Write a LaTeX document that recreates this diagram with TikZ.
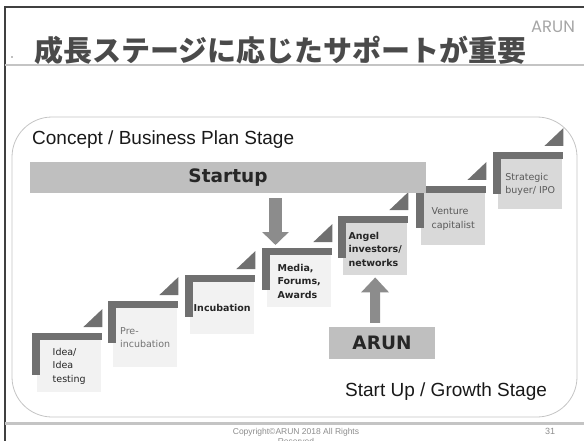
\documentclass[tikz,border=0pt]{standalone}
\usepackage{fontspec}
\setmainfont{Liberation Sans}
\newfontfamily\stepfont{DejaVu Sans}
\newfontfamily\jpfont{Noto Sans CJK JP}
\newfontfamily\logofont{Poppins}
\usetikzlibrary{arrows.meta,calc}
\definecolor{ArunInk}{HTML}{262626}
\definecolor{ArunTitle}{HTML}{4A4A4A}
\definecolor{ArunBar}{HTML}{707070}
\definecolor{ArunArrow}{HTML}{8C8C8C}
\definecolor{ArunBand}{HTML}{BFBFBF}
\definecolor{ArunPale}{HTML}{F2F2F2}
\definecolor{ArunShade}{HTML}{D9D9D9}
\definecolor{ArunRule}{HTML}{C4C4C4}
\definecolor{ArunSoft}{HTML}{A6A6A6}
\begin{document}
\begin{tikzpicture}[x=1pt,y=-1pt,
    stepbox/.style={anchor=north west,minimum width=64pt,minimum height=52pt,inner sep=2pt,align=left,font=\stepfont\fontsize{9.5}{13.5}\selectfont,text=ArunInk},
    palebox/.style={stepbox,fill=ArunPale},
    darkbox/.style={stepbox,fill=ArunShade},
    bandbox/.style={fill=ArunBand,inner sep=0pt,font=\stepfont\bfseries\fontsize{18.5}{22}\selectfont,text=ArunInk},
    stepbar/.style={fill=ArunBar},
    blockarr/.style={ArunArrow,-{Triangle[width=26pt,length=13pt]}},
    stage/.style={anchor=base west,inner sep=0pt,font=\fontsize{19}{23}\selectfont,text=black!90},
    foot/.style={inner sep=0pt,font=\fontsize{8.5}{10}\selectfont,text=black!45}
  ]
  \useasboundingbox (0,0) rectangle (584,441);
  \clip (0,0) rectangle (584,441);
  % slide frame and rules
  \draw[black!75,line width=1.5pt] (5,441) -- (5,7) -- (584,7);
  \draw[ArunRule,line width=2pt] (5,65) -- (584,65);
  \draw[ArunRule,line width=3pt] (5,423) -- (584,423);
  \fill[black!50] (12,57) circle (0.8pt);
  \node[inner sep=0pt,font=\jpfont\bfseries\fontsize{29}{32}\selectfont,text=ArunTitle] (title) at (280.5,50.5) {成長ステージに応じたサポートが重要};
  \node[inner sep=0pt,font=\logofont\fontsize{16.5}{18}\selectfont,text=ArunSoft] (logo) at (553,27) {ARUN};
  \draw[ArunRule,line width=0.8pt,rounded corners=40pt] (12,117) rectangle (577,417);
  \node[stage] (concept) at (32,145) {Concept / Business Plan Stage};
  \node[stage] (growth) at (345,396) {Start Up / Growth Stage};
  % steps
  \node[palebox] (idea) at (37,340) {Idea/\\Idea\\testing};
  \node[palebox,minimum height=59pt,text=black!55] (preinc) at (113,308) {Pre-\\incubation};
  \node[palebox,font=\stepfont\bfseries\fontsize{9.5}{13.5}\selectfont] (incub) at (190,282) {Incubation};
  \node[palebox,font=\stepfont\bfseries\fontsize{9.5}{13.5}\selectfont] (media) at (267,255) {Media,\\Forums,\\Awards};
  \node[darkbox,font=\stepfont\bfseries\fontsize{9.5}{13.5}\selectfont] (angel) at (343,223) {Angel\\investors/\\networks};
  \node[darkbox,text=black!65] (venture) at (421,193) {Venture\\capitalist};
  \node[darkbox,minimum height=50pt,text=black!65] (buyer) at (498,159) {Strategic\\buyer/ IPO};
  \foreach \s in {idea,preinc,incub,media,angel,venture,buyer}{
    \fill[stepbar] ([xshift=-5pt,yshift=7pt]\s.north west) rectangle ([xshift=1pt]\s.north east);
    \fill[stepbar] ([xshift=-5pt,yshift=7pt]\s.north west) rectangle ([xshift=3pt,yshift=-35pt]\s.north west);
    \fill[stepbar] ([xshift=-18pt,yshift=13pt]\s.north east) -- ([xshift=1pt,yshift=13pt]\s.north east) -- ([xshift=1pt,yshift=31pt]\s.north east) -- cycle;
  }
  % support bands
  \node[bandbox,minimum width=396pt,minimum height=31pt] (startup) at (228,177.5) {Startup};
  \node[bandbox,minimum width=106pt,minimum height=32pt] (arun) at (382,343) {ARUN};
  \draw[blockarr,line width=13pt] ([xshift=47.5pt,yshift=-5pt]startup.south) -- ([xshift=8.5pt,yshift=10pt]media.north west);
  \draw[blockarr,line width=10pt,-{Triangle[width=27pt,length=15pt]}] ([xshift=-7pt,yshift=4pt]arun.north) -- ([yshift=-2pt]angel.south);
  % footer
  \node[foot,anchor=north,align=center] (copy) at (296,428) {Copyright©ARUN 2018 All Rights\\Reserved};
  \node[foot,font=\fontsize{9}{10}\selectfont] (page) at (550,431) {31};
\end{tikzpicture}
\end{document}
